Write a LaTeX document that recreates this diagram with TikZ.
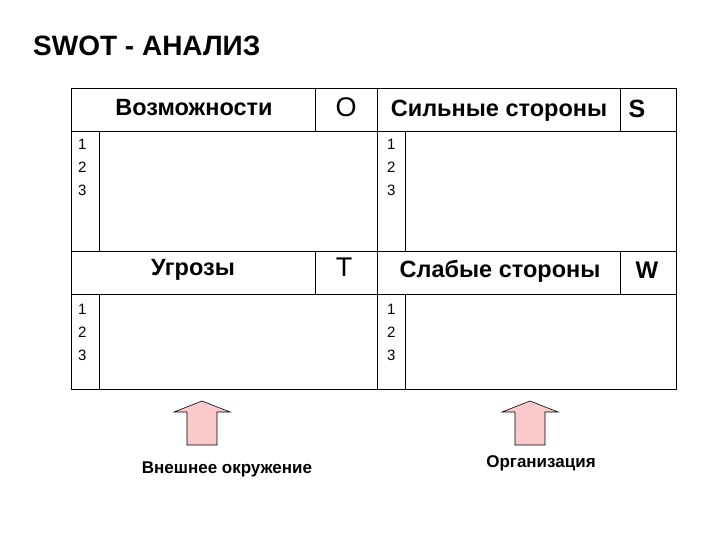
\documentclass[tikz,border=0pt]{standalone}
\usepackage{fontspec}
\setmainfont{Liberation Sans}
\usetikzlibrary{positioning}
\definecolor{arrowpink}{RGB}{250,202,202}

\begin{document}
\begin{tikzpicture}[x=1pt,y=-1pt,
  hdr/.style={font=\bfseries\fontsize{23.5}{23.5}\selectfont,anchor=base,inner sep=0pt},
  letter/.style={font=\fontsize{27}{27}\selectfont,anchor=base,inner sep=0pt},
  num/.style={font=\fontsize{15}{15}\selectfont,anchor=base west,inner sep=0pt},
  caption/.style={font=\bfseries\fontsize{17}{17}\selectfont,anchor=base,inner sep=0pt},
  upblock/.style={draw=black,fill=arrowpink,line width=0.6pt}]
  \useasboundingbox (0,0) rectangle (720,540);
  \node[font=\bfseries\fontsize{28}{28}\selectfont,anchor=base west,inner sep=0pt] (title) at (33,56) {SWOT - АНАЛИЗ};
  % table frame
  \draw (71,88) rectangle (676,389);
  \draw (71,131) -- (676,131) (71,251) -- (676,251) (71,294) -- (676,294);
  \draw (377,88) -- (377,389);
  \draw (315,88) -- (315,131) (315,251) -- (315,294);
  \draw (620,88) -- (620,131) (620,251) -- (620,294);
  \draw (99,131) -- (99,251) (99,294) -- (99,389);
  \draw (405,131) -- (405,251) (405,294) -- (405,389);
  % headers
  \node[hdr] (opp)  at (194,116) {Возможности};
  \node[letter] (O) at (346,117) {O};
  \node[hdr] (str)  at (499,117) {Сильные стороны};
  \node[letter,font=\bfseries\fontsize{25}{25}\selectfont] (S) at (637,118) {S};
  \node[hdr] (thr)  at (193,275) {Угрозы};
  \node[letter] (T) at (344,276) {T};
  \node[hdr] (weak) at (500,277) {Слабые стороны};
  \node[letter,font=\bfseries\fontsize{24}{24}\selectfont] (W) at (647,278) {W};
  % numbering
  \foreach \i in {1,2,3} {
    \node[num] (o\i) at (78,{127+23*\i}) {\i};
    \node[num] (s\i) at (387,{127+23*\i}) {\i};
    \node[num] (t\i) at (78,{291+23*\i}) {\i};
    \node[num] (w\i) at (387,{291+23*\i}) {\i};
  }
  % block arrows
  \foreach \cx/\nm in {202/ext,530/org} {
    \draw[upblock] (\cx,401) -- (\cx+28,412) -- (\cx+15,412) -- (\cx+15,445)
      -- (\cx-15,445) -- (\cx-15,412) -- (\cx-28,412) -- cycle;
    \coordinate (\nm) at (\cx,445);
  }
  \node[caption] (extlbl) at (227,473) {Внешнее окружение};
  \node[caption] (orglbl) at (541,467) {Организация};
\end{tikzpicture}
\end{document}
